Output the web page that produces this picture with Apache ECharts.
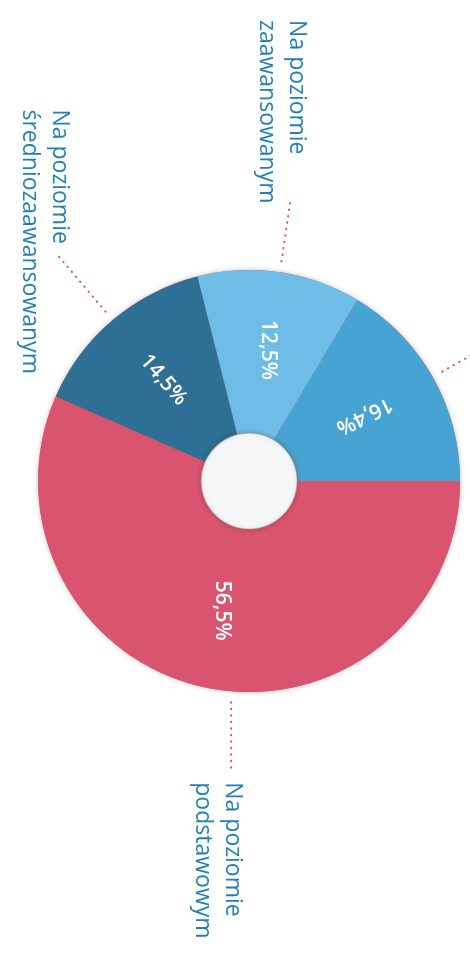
<!DOCTYPE html>
<html>
<head>
<meta charset="utf-8">
<script src="https://cdn.jsdelivr.net/npm/echarts@6/dist/echarts.min.js"></script>
<style>
  html, body { margin: 0; padding: 0; background: #ffffff; }
  #chart { width: 470px; height: 966px; }
</style>
</head>
<body>
<div id="chart"></div>
<script>
// Language proficiency shares (percent), slices in drawing order
const categories = [
  'Na poziomie\npodstawowym',
  'Na poziomie\nśredniozaawansowanym',
  'Na poziomie\nzaawansowanym',
  'Na poziomie\nbiegłym'
];
const shares = [56.5, 14.5, 12.5, 16.4];
const showName = [true, true, true, false];

// Styling
const sliceColors = ['#d9546f', '#2e6f95', '#6dbde6', '#47a3d2'];
const pctRotate = [-90, -49, -90, -154];
const leaderLength = [80, 86, 75, 50];
const labelOffset = [[16, 11], [17, -145], [21, -178], [0, 0]];
const leaderX = [-18, null, null, null]; // vertical leader, px from centre
const CX = 0.53, CY = 0.498;
const R_IN = 48, R_OUT = 211;
const LEADER_GAP = 11;
const FONT = '"Open Sans", "Noto Sans", sans-serif';

const chart = echarts.init(document.getElementById('chart'), null, { renderer: 'canvas' });
const center = [CX * 100 + '%', CY * 100 + '%'];

function fmtPct(v) {
  return v.toFixed(1).replace('.', ',') + '%';
}

function placeName(params) {
  const i = params.dataIndex;
  const pts = params.labelLinePoints;
  if (!pts) return {};
  let start, end;
  if (leaderX[i] != null) {
    const cx = chart.getWidth() * CX, cy = chart.getHeight() * CY;
    const x = cx + leaderX[i];
    const rimY = cy + Math.sqrt(R_OUT * R_OUT - leaderX[i] * leaderX[i]);
    start = [x, rimY + LEADER_GAP];
    end = [x, rimY + leaderLength[i]];
  } else {
    const p0 = pts[0], p1 = pts[1];
    const dx = p1[0] - p0[0], dy = p1[1] - p0[1];
    const len = Math.hypot(dx, dy) || 1;
    start = [p0[0] + dx / len * LEADER_GAP, p0[1] + dy / len * LEADER_GAP];
    end = p1;
  }
  return {
    x: end[0] + labelOffset[i][0],
    y: end[1] + labelOffset[i][1],
    align: 'left',
    verticalAlign: 'top',
    labelLinePoints: [start, end, end]
  };
}

const sliceData = shares.map((v, i) => ({
  value: v,
  name: categories[i],
  itemStyle: { color: sliceColors[i] },
  labelLine: { length: leaderLength[i], length2: 0 }
}));

const pctData = shares.map((v, i) => ({
  value: v,
  name: categories[i],
  label: { rotate: pctRotate[i] }
}));

chart.setOption({
  animation: false,
  backgroundColor: '#ffffff',
  series: [
    {
      // soft rim under the ring
      type: 'pie',
      center: center,
      radius: [0, R_OUT],
      silent: true,
      z: 1,
      label: { show: false },
      labelLine: { show: false },
      itemStyle: {
        color: '#d9546f',
        shadowBlur: 5,
        shadowColor: 'rgba(90, 60, 50, 0.35)'
      },
      data: [{ value: 1, name: '' }]
    },
    {
      type: 'pie',
      center: center,
      radius: [R_IN, R_OUT],
      startAngle: 0,
      clockwise: true,
      avoidLabelOverlap: false,
      silent: true,
      z: 2,
      itemStyle: { borderWidth: 0 },
      label: {
        show: true,
        position: 'outside',
        rotate: -90,
        fontFamily: FONT,
        fontSize: 23,
        fontWeight: 500,
        lineHeight: 30,
        color: '#2380b5',
        formatter: p => (showName[p.dataIndex] ? p.name : '')
      },
      labelLine: {
        show: true,
        length: 70,
        length2: 0,
        smooth: false,
        lineStyle: { color: '#d4577a', width: 2, type: [0.5, 6], cap: 'round' }
      },
      labelLayout: placeName,
      data: sliceData
    },
    {
      // centre hole
      type: 'pie',
      center: center,
      radius: [0, R_IN],
      silent: true,
      z: 3,
      label: { show: false },
      labelLine: { show: false },
      itemStyle: {
        color: '#f4f6f8',
        borderColor: 'rgba(160, 140, 125, 0.5)',
        borderWidth: 1.2,
        shadowBlur: 4,
        shadowColor: 'rgba(60, 40, 30, 0.3)'
      },
      data: [{ value: 1, name: '' }]
    },
    {
      // percentage labels on the slices
      type: 'pie',
      center: center,
      radius: [R_IN, R_OUT],
      startAngle: 0,
      clockwise: true,
      silent: true,
      z: 4,
      itemStyle: { color: 'rgba(0,0,0,0)' },
      label: {
        show: true,
        position: 'inside',
        fontFamily: FONT,
        fontSize: 21,
        fontWeight: 600,
        color: '#ffffff',
        formatter: p => fmtPct(p.value)
      },
      labelLine: { show: false },
      data: pctData
    }
  ]
});
</script>
</body>
</html>
